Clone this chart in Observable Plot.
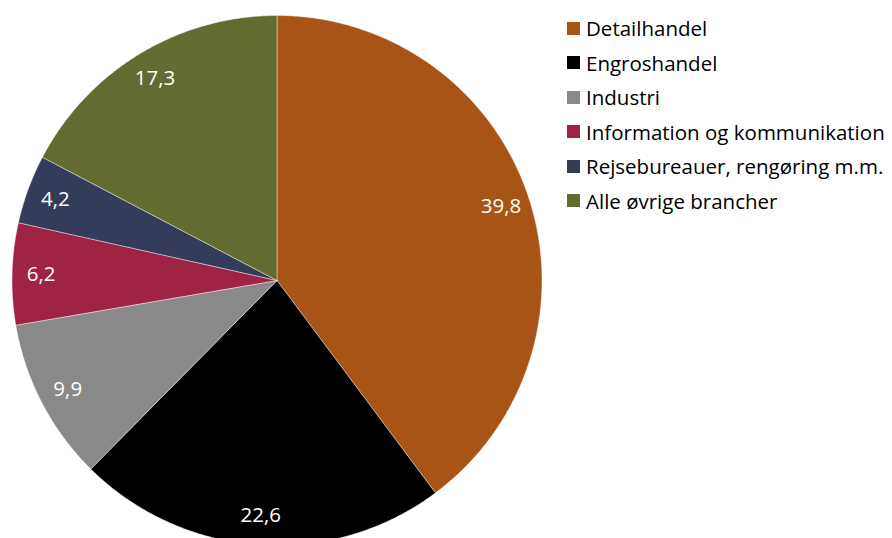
<!DOCTYPE html>
<html>
<head>
<meta charset="utf-8">
<script src="https://cdn.jsdelivr.net/npm/d3@7"></script>
<script src="https://cdn.jsdelivr.net/npm/@observablehq/plot@0.6"></script>
<style>
  html, body { margin: 0; padding: 0; background: #fff; }
  #wrap { position: relative; width: 892px; height: 538px; overflow: hidden; }
  #legend { position: absolute; left: 567px; top: 11px; font-family: "Open Sans", sans-serif; font-size: 20.5px; color: #000; }
  .item { display: flex; align-items: center; height: 34.5px; white-space: nowrap; }
  .sw { width: 13px; height: 13px; margin-right: 6px; flex: none; }
</style>
</head>
<body>
<div id="wrap"><div id="legend"></div></div>
<script>
const categories = ["Detailhandel", "Engroshandel", "Industri", "Information og kommunikation", "Rejsebureauer, rengøring m.m.", "Alle øvrige brancher"];
const values = [39.8, 22.6, 9.9, 6.2, 4.2, 17.3];
const colors = ["#A85416", "#000000", "#898989", "#A02345", "#333D59", "#636B30"];

const W = 892, H = 538;
const R = 265, cx = 276.5, cy = 280;
const labelR = 236;

const data = categories.map((name, i) => ({name, value: values[i]}));
const arcs = d3.pie().value(d => d.value).sort(null)(data);

const pts = [];
const labels = [];
arcs.forEach(a => {
  const name = a.data.name;
  pts.push({name, x: 0, y: 0});
  const n = Math.max(2, Math.ceil((a.endAngle - a.startAngle) / (Math.PI / 360)));
  for (let k = 0; k <= n; k++) {
    const t = a.startAngle + (a.endAngle - a.startAngle) * k / n;
    pts.push({name, x: R * Math.sin(t), y: R * Math.cos(t)});
  }
  pts.push({name, x: 0, y: 0});
  const m = (a.startAngle + a.endAngle) / 2;
  labels.push({name, x: labelR * Math.sin(m), y: labelR * Math.cos(m), text: a.data.value.toFixed(1).replace(".", ",")});
});

const chart = Plot.plot({
  width: W, height: H,
  margin: 0,
  x: {domain: [-cx, W - cx], axis: null},
  y: {domain: [cy - H, cy], axis: null},
  color: {type: "ordinal", domain: categories, range: colors},
  style: {fontFamily: "'Open Sans', sans-serif", background: "transparent"},
  marks: [
    Plot.line(pts, {x: "x", y: "y", z: "name", fill: "name", stroke: "#ffffff", strokeWidth: 0.6, strokeOpacity: 0.7, curve: "linear"}),
    Plot.text(labels, {x: "x", y: "y", text: "text", fill: "white", fontSize: 20.5})
  ]
});
const wrap = document.getElementById("wrap");
wrap.insertBefore(chart, wrap.firstChild);

const legend = document.getElementById("legend");
categories.forEach((c, i) => {
  const it = document.createElement("div");
  it.className = "item";
  const sw = document.createElement("span");
  sw.className = "sw";
  sw.style.background = colors[i];
  const tx = document.createElement("span");
  tx.textContent = c;
  it.appendChild(sw); it.appendChild(tx);
  legend.appendChild(it);
});
</script>
</body>
</html>
